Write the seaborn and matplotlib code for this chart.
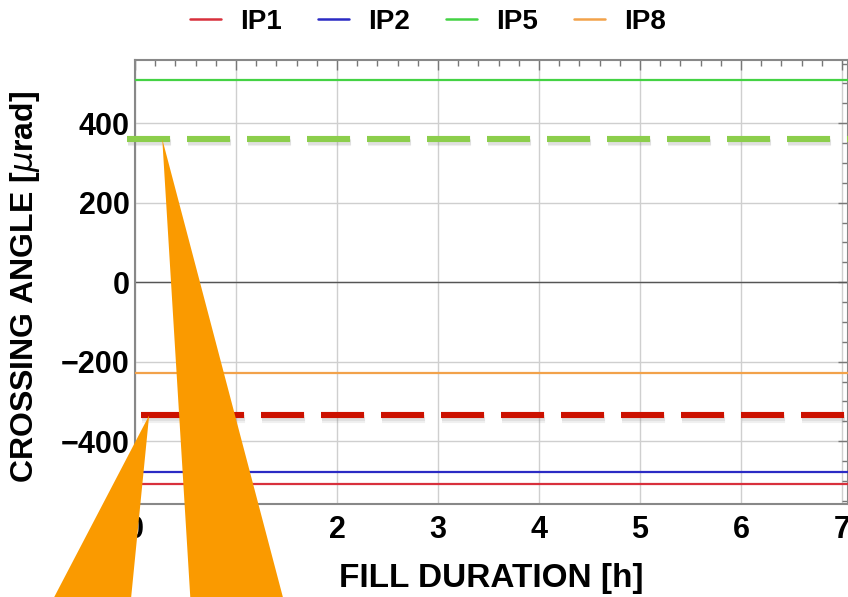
import numpy as np
import pandas as pd
import seaborn as sns
import matplotlib
matplotlib.use("Agg")
import matplotlib.pyplot as plt
from matplotlib.patches import Polygon
import matplotlib.patheffects as pe
from matplotlib.ticker import MultipleLocator

# ---- data ----
series = ["IP1", "IP2", "IP5", "IP8"]
angles = [-507, -478, 508, -228]          # crossing angle levels [urad]
colors = ["#d8303c", "#2b2bc4", "#44d244", "#f2a24a"]
duration = [0.0, 7.06]                     # fill duration span [h]

dashed_levels = [360, -335]
dashed_colors = ["#8cce4c", "#cc1100"]
dashed_start = [-0.08, 0.056]

xticks = [0, 1, 2, 3, 4, 5, 6, 7]
yticks = [-400, -200, 0, 200, 400]

# callout arrows: tip in data coords, base (left,right) in figure pixels
callout_tips = [(0.27, 360), (0.14, -335)]
callout_bases = [((191, 597), (286, 597)), ((48, 597), (130, 597))]

# ---- figure ----
sns.set_theme(style="white")
plt.rcParams['font.family'] = ['Liberation Sans', 'DejaVu Sans']
plt.rcParams['lines.scale_dashes'] = False
for k in ['text.color', 'axes.labelcolor', 'xtick.labelcolor', 'ytick.labelcolor']:
    plt.rcParams[k] = 'black'

W, H = 848, 597
fig = plt.figure(figsize=(W / 100, H / 100), dpi=100)
ax = fig.add_axes([135 / W, (H - 504) / H, 1 - 135 / W, (504 - 60) / H])

df = pd.DataFrame(
    [(d, a, s) for s, a in zip(series, angles) for d in duration],
    columns=["duration", "angle", "series"],
)
sns.lineplot(data=df, x="duration", y="angle", hue="series",
             palette=dict(zip(series, colors)), linewidth=1.6, ax=ax,
             legend=False, zorder=3)

for lev, c, x0 in zip(dashed_levels, dashed_colors, dashed_start):
    ln, = ax.plot([x0, duration[1] + 0.5], [lev, lev], color=c, lw=4.4,
                  clip_on=False, zorder=4, solid_capstyle='butt',
                  dash_capstyle='butt')
    ln.set_dashes((31, 12.2))
    ln.set_path_effects([
        pe.SimpleLineShadow(offset=(1.0, -3.0), shadow_color='#888888', alpha=0.12),
        pe.SimpleLineShadow(offset=(1.0, -2.0), shadow_color='#888888', alpha=0.15),
        pe.Normal()])

ax.set_xlim(duration[0], duration[1])
ax.set_ylim(-558, 559)
ax.set_xticks(xticks)
ax.set_yticks(yticks)
ax.set_xticklabels([str(t) for t in xticks])
ax.set_yticklabels([str(t).replace('-', '\u2212') for t in yticks])
ax.xaxis.set_minor_locator(MultipleLocator(0.2))
ax.yaxis.set_minor_locator(MultipleLocator(50))
ax.tick_params(which='both', direction='in', top=True, right=True,
               color='#777777', width=1.0, labelsize=22,
               labelcolor='black')
ax.tick_params(axis='x', pad=8)
ax.tick_params(axis='y', pad=4)
ax.tick_params(which='major', length=7)
ax.tick_params(which='minor', length=4)
for lbl in ax.get_xticklabels() + ax.get_yticklabels():
    lbl.set_fontweight('bold')
ax.grid(True, which='major', color='#cfcfcf', lw=1.0)
ax.axhline(0, color='#555555', lw=1.0, zorder=1)
for sp in ax.spines.values():
    sp.set_color('#888888')
    sp.set_linewidth(1.5)

ax.set_xlabel("")
ax.set_ylabel("")
fig.text(491 / W, 1 - 578 / H, "FILL DURATION [h]", ha='center', va='center',
         fontsize=24, fontweight='bold', color='black')
fig.text(25 / W, 1 - 287 / H, r"CROSSING ANGLE [$\mu$rad]",
         ha='center', va='center', rotation=90, fontsize=23, fontweight='bold',
         color='black')

handles = [plt.Line2D([], [], color=c, lw=1.8) for c in colors]
leg = fig.legend(handles, series, loc='center', bbox_to_anchor=(0.505, 1 - 22 / H),
                 ncol=4, frameon=False, handlelength=1.1, handletextpad=0.7,
                 columnspacing=1.3, prop=dict(size=20, weight='bold'))
for t in leg.get_texts():
    t.set_color('black')

# callouts
to_fig = fig.transFigure.inverted()
for tip, (bl, br) in zip(callout_tips, callout_bases):
    tip_px = ax.transData.transform(tip)
    pts = [to_fig.transform(tip_px),
           (bl[0] / W, 1 - bl[1] / H - 0.02),
           (br[0] / W, 1 - br[1] / H - 0.02)]
    fig.patches.append(Polygon(pts, closed=True, transform=fig.transFigure,
                               facecolor='#fa9a00', edgecolor='none',
                               zorder=10))

fig.savefig("out.png", dpi=100)
